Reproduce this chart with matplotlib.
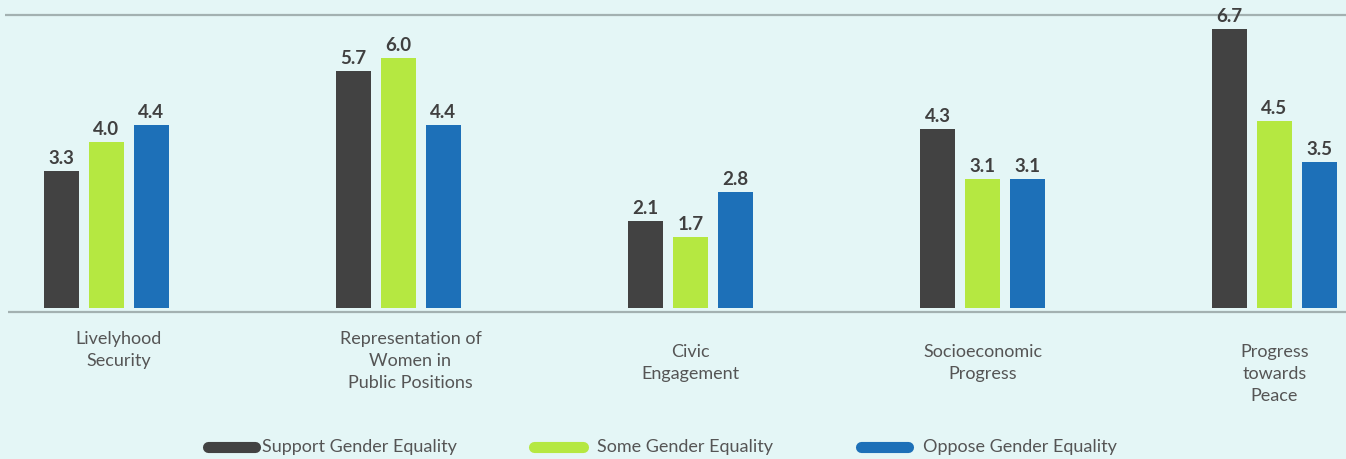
import matplotlib
matplotlib.use("Agg")
import matplotlib.pyplot as plt
from matplotlib.lines import Line2D
import numpy as np

# ---- data ----
categories = ["Livelyhood\nSecurity", "Representation of\nWomen in\nPublic Positions",
              "Civic\nEngagement", "Socioeconomic\nProgress", "Progress\ntowards\nPeace"]
series_names = ["Support Gender Equality", "Some Gender Equality", "Oppose Gender Equality"]
support = [3.3, 5.7, 2.1, 4.3, 6.7]
some = [4.0, 6.0, 1.7, 3.1, 4.5]
oppose = [4.4, 4.4, 2.8, 3.1, 3.5]

colors = ["#424242", "#B5E841", "#1D70B8"]
bg = "#E4F6F6"
W, H = 1346, 459
fig = plt.figure(figsize=(W / 100, H / 100), dpi=100, facecolor=bg)
ax = fig.add_axes([0, 0, 1, 1])
ax.set_facecolor(bg)

# pixel geometry
px_x = 292.0          # pixels per group
x0 = 106.5            # pixel of first group centre
px_y = 41.6           # pixels per unit
y0 = 308.0            # pixel of zero
ax.set_xlim(-x0 / px_x, (W - x0) / px_x)
ax.set_ylim(-(H - y0) / px_y, y0 / px_y)
ax.axis("off")

bw = 35 / px_x
off = 45 / px_x
x = np.arange(len(categories))
vfont = dict(family=["Lato", "DejaVu Sans"], weight="bold", size=13.5, color="#404040")
for i, (vals, c) in enumerate(zip([support, some, oppose], colors)):
    xs = x + (i - 1) * off
    ax.bar(xs, vals, width=bw, color=c, zorder=2)
    for xi, v in zip(xs, vals):
        ax.text(xi, v + 7 / px_y, f"{v:.1f}", ha="center", va="baseline", **vfont)

# horizontal rules
ax.plot([5 / px_x - x0 / px_x, (W - x0) / px_x], [(y0 - 15) / px_y] * 2,
        color="#A3B1B1", lw=1.6, zorder=1, solid_capstyle="butt")
ax.plot([8 / px_x - x0 / px_x, (W - x0) / px_x], [(y0 - 312) / px_y] * 2,
        color="#A3B1B1", lw=1.6, zorder=1, solid_capstyle="butt")

# category labels
label_dx = [12, 12, 0, 0, 0]
label_top = [331, 331, 344, 344, 344]
lfont = dict(family=["Lato", "DejaVu Sans"], size=13, color="#555555")
for xi, lab, dx, ty in zip(x, categories, label_dx, label_top):
    ax.text(xi + dx / px_x, (y0 - ty) / px_y, lab, ha="center", va="top",
            linespacing=1.45, **lfont)

# legend (manual, rounded handles)
leg_handle_px = [(208, 255), (534, 583), (861, 908)]
leg_text_px = [262, 597, 923]
leg_y = (H - 447) / H
for (a, b), tx, name, c in zip(leg_handle_px, leg_text_px, series_names, colors):
    fig.add_artist(Line2D([a / W, b / W], [leg_y, leg_y], color=c, lw=8,
                          solid_capstyle="round", transform=fig.transFigure))
    fig.text(tx / W, leg_y, name, ha="left", va="center", **lfont)

fig.savefig("out.png", dpi=100, facecolor=bg)
